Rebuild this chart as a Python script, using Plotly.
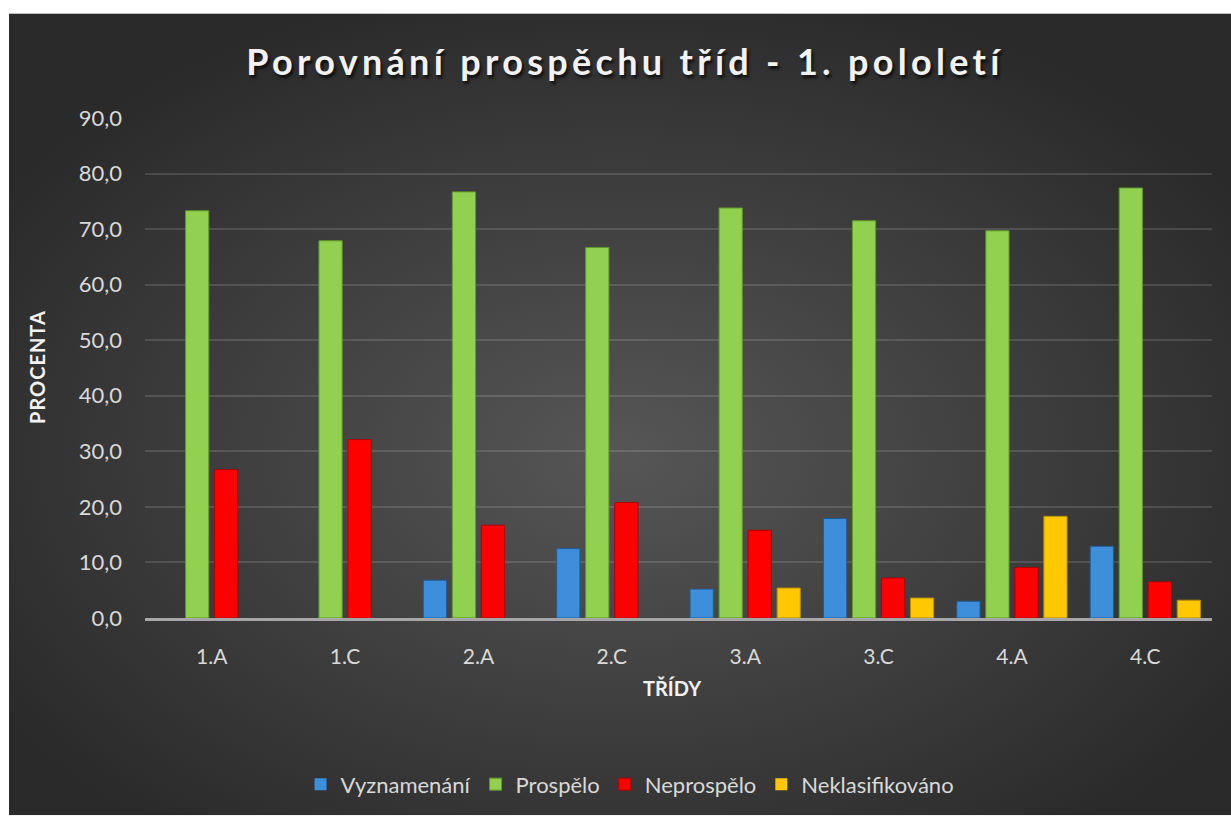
import base64
import plotly.graph_objects as go

categories = ["1.A", "1.C", "2.A", "2.C", "3.A", "3.C", "4.A", "4.C"]
vyznamenani = [0.0, 0.0, 6.8, 12.5, 5.2, 17.9, 3.0, 12.9]
prospelo = [73.3, 67.9, 76.7, 66.7, 73.8, 71.5, 69.7, 77.4]
neprospelo = [26.7, 32.1, 16.7, 20.8, 15.8, 7.2, 9.1, 6.5]
neklasifikovano = [0.0, 0.0, 0.0, 0.0, 5.4, 3.6, 18.3, 3.2]
y_ticks = [0, 10, 20, 30, 40, 50, 60, 70, 80, 90]
y_tick_labels = ["0,0", "10,0", "20,0", "30,0", "40,0", "50,0", "60,0", "70,0", "80,0", "90,0"]

series = [
    ("Vyznamenání", vyznamenani, "#3d8fdb", "#1f5e9c"),
    ("Prospělo", prospelo, "#92d050", "#5f9a2a"),
    ("Neprospělo", neprospelo, "#ff0000", "#b00000"),
    ("Neklasifikováno", neklasifikovano, "#ffc800", "#b88a00"),
]

W, H = 1231, 818
# plot area in page pixels: x 145..1212, y 118..620
L = 145
R = W - 1212
T = 118
B = H - 620
pw, ph = W - L - R, H - T - B


def px_x(p):
    return (p - L) / pw


def px_y(p):
    return (H - B - p) / ph


fig = go.Figure()
for name, vals, col, edge in series:
    fig.add_trace(go.Bar(
        name=name, x=categories, y=vals,
        marker=dict(color=col, line=dict(color=edge, width=[0 if v == 0 else 1 for v in vals])),
    ))

svg = (
    '<svg xmlns="http://www.w3.org/2000/svg" width="1222" height="805" viewBox="0 0 1222 805" preserveAspectRatio="none">'
    '<defs><radialGradient id="g" cx="50%" cy="55%" r="60%">'
    '<stop offset="0%" stop-color="#565656"/>'
    '<stop offset="100%" stop-color="#2a2a2a"/>'
    '</radialGradient></defs>'
    '<rect width="1222" height="805" fill="url(#g)"/></svg>'
)
src = "data:image/svg+xml;base64," + base64.b64encode(svg.encode()).decode()

fig.add_layout_image(dict(
    source=src, xref="paper", yref="paper",
    x=px_x(9), y=px_y(13), sizex=px_x(W) - px_x(9), sizey=px_y(13) - px_y(H),
    xanchor="left", yanchor="top", sizing="stretch", layer="below",
))

font_fam = "Lato, 'Open Sans', sans-serif"
fig.update_layout(
    width=W, height=H,
    margin=dict(l=L, r=R, t=T, b=B),
    paper_bgcolor="white",
    plot_bgcolor="rgba(0,0,0,0)",
    barmode="group", bargap=0.13, bargroupgap=0.2,
    font=dict(family=font_fam, color="#d9d9d9", size=21),
    title=dict(
        text='<span style="letter-spacing:4.3px"><b>Porovnání prospěchu tříd - 1. pololetí</b></span>',
        x=625 / W, xanchor="center", y=1 - 62 / H, yanchor="middle", yref="container",
        font=dict(family=font_fam, size=36, color="#f2f2f2",
                  shadow="2px 3px 3px rgba(0,0,0,0.7)"),
    ),
    xaxis=dict(
        showgrid=False, showline=True, linecolor="#a6a6a6", linewidth=3,
        ticks="", ticklabelstandoff=18, tickfont=dict(size=21, color="#d9d9d9"),
    ),
    yaxis=dict(
        range=[0, 90], tickvals=y_ticks, ticktext=y_tick_labels,
        showgrid=True, gridcolor="rgba(255,255,255,0.13)", gridwidth=1.5,
        zeroline=False, showline=False, ticks="", ticklabelstandoff=22,
        tickfont=dict(size=22, color="#d9d9d9"),
    ),
    legend=dict(
        orientation="h", x=px_x(630), xanchor="center", y=px_y(787), yanchor="middle",
        font=dict(size=22, color="#d9d9d9"), itemwidth=30, bgcolor="rgba(0,0,0,0)",
    ),
    showlegend=True,
    annotations=[
        dict(text='<span style="letter-spacing:1px"><b>PROCENTA</b></span>', xref="paper", yref="paper",
             x=px_x(37), y=px_y(368),
             textangle=-90, showarrow=False, xanchor="center", yanchor="middle",
             font=dict(size=20, color="#f2f2f2")),
        dict(text="<b>TŘÍDY</b>", xref="paper", yref="paper", x=px_x(672), y=px_y(690),
             showarrow=False, xanchor="center", yanchor="middle",
             font=dict(size=20, color="#f2f2f2")),
    ],
)

fig.write_html(
    "out.html",
    config={"displayModeBar": False},
    post_script="document.body.style.margin='0';document.body.style.overflow='hidden';",
)
